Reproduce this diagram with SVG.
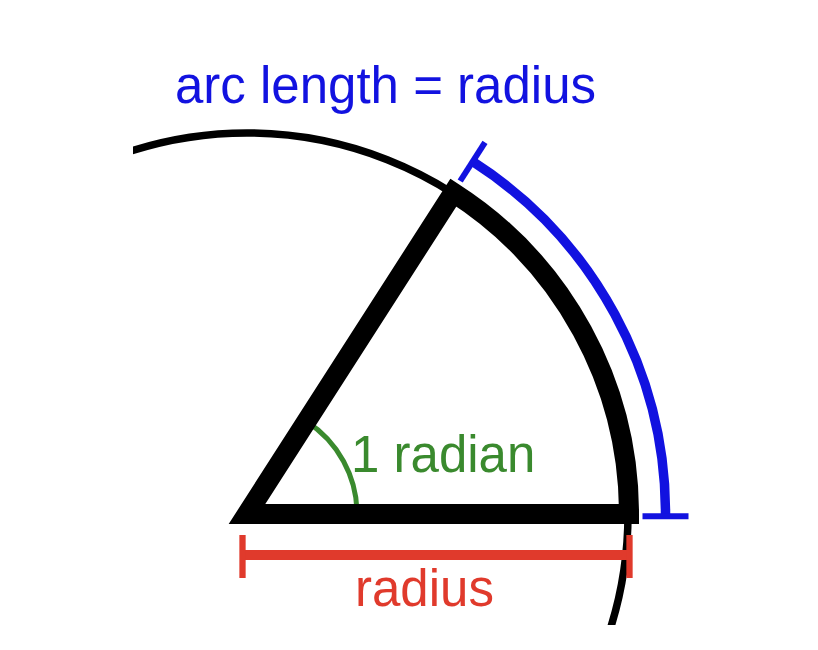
<svg xmlns="http://www.w3.org/2000/svg" width="818" height="650" viewBox="0 0 818 650">
  <style>
    .txt { font-family: "Liberation Sans", Arial, sans-serif; font-size: 51px; }
    .circle { fill: none; stroke: #000; stroke-width: 7.5; }
    .wedge { fill: none; stroke: #000; stroke-width: 20; stroke-linejoin: miter; stroke-miterlimit: 4; }
    .blue { fill: none; stroke: #1212e0; }
    .red { fill: none; stroke: #e03a2c; }
    .green { fill: none; stroke: #3a8a2e; stroke-width: 5; }
  </style>
  <defs>
    <clipPath id="clip">
      <rect x="133" y="0" width="700" height="625"/>
    </clipPath>
  </defs>
  <rect width="818" height="650" fill="#fff"/>
  <g id="circle" clip-path="url(#clip)">
    <circle class="circle" cx="247" cy="514" r="381"/>
  </g>
  <g id="angle">
    <path class="green" d="M 357 514 A 110 110 0 0 0 306.4 421.4"/>
    <text class="txt" x="351" y="472" fill="#3a8a2e">1 radian</text>
  </g>
  <g id="wedge">
    <path class="wedge" d="M 247 514 L 629 514 A 382 382 0 0 0 453.4 192.6 Z"/>
  </g>
  <g id="connectors">
    <g id="arc-dimension">
      <path class="blue" stroke-width="9.5" d="M 665.5 516.3 A 418.5 418.5 0 0 0 473.1 161.8"/>
      <line class="blue" stroke-width="6" x1="642.5" y1="516.3" x2="688.5" y2="516.3"/>
      <line class="blue" stroke-width="6" x1="460.2" y1="181" x2="485" y2="142.4"/>
    </g>
    <g id="radius-dimension">
      <line class="red" stroke-width="10" x1="242.5" y1="555" x2="629.5" y2="555"/>
      <line class="red" stroke-width="6.3" x1="242.5" y1="535" x2="242.5" y2="578"/>
      <line class="red" stroke-width="6.3" x1="629.5" y1="535" x2="629.5" y2="578"/>
    </g>
  </g>
  <g id="labels">
    <text class="txt" x="175" y="103" fill="#1212e0">arc length = radius</text>
    <text class="txt" x="355" y="606" fill="#e03a2c">radius</text>
  </g>
</svg>
